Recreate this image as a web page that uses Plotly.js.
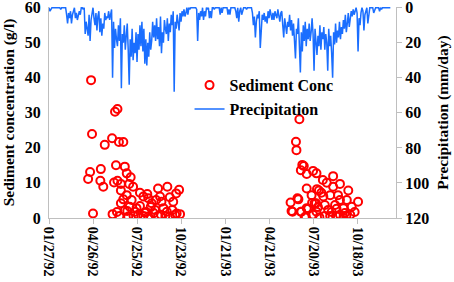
<!DOCTYPE html>
<html>
<head>
<meta charset="utf-8">
<script src="https://cdn.plot.ly/plotly-3.0.1.min.js"></script>
<style>html,body{margin:0;padding:0;background:#fff;}#chart{width:454px;height:282px;}</style>
</head>
<body>
<div id="chart"></div>
<script>
// Sediment concentration samples (g/l)
const sedDates = [
'1992-04-22','1992-06-10','1992-06-15','1992-04-24','1992-06-04','1992-05-20','1992-06-18','1992-06-27','1992-06-12','1992-06-30',
'1992-04-20','1992-04-16','1992-05-12','1992-05-11','1992-05-17','1992-07-04','1992-07-12','1992-06-08','1992-06-15','1992-06-22',
'1992-07-09','1992-07-17','1992-06-22','1992-07-31','1992-07-04','1992-08-15','1992-09-06','1992-09-25','1992-10-19','1992-10-13',
'1992-06-27','1992-08-07','1992-08-17','1992-09-10','1992-09-30','1992-06-22','1992-07-10','1992-07-31','1992-08-24','1992-09-13',
'1992-10-07','1992-06-30','1992-07-21','1992-08-10','1992-08-31','1992-09-24','1992-10-14','1992-04-26','1992-06-05','1992-06-19',
'1992-07-07','1992-08-07','1992-08-17','1992-09-06','1992-09-30','1992-10-11','1992-10-21',
'1992-07-14','1992-07-24','1992-08-22','1992-08-28','1992-09-02','1992-09-17','1992-09-21','1992-10-05','1992-07-27','1992-07-18',
'1992-07-05','1992-06-14','1992-08-13','1992-09-12',
'1993-06-22','1993-06-15','1993-06-16','1993-06-28','1993-07-01','1993-06-25','1993-07-07','1993-07-20','1993-07-27','1993-08-09',
'1993-08-30','1993-08-17','1993-09-13','1993-07-07','1993-07-28','1993-08-01','1993-08-06','1993-08-30','1993-08-24','1993-09-30',
'1993-07-17','1993-06-20','1993-06-04','1993-08-10','1993-10-20','1993-09-13','1993-09-27','1993-07-26','1993-09-03','1993-06-06',
'1993-06-26','1993-07-10','1993-07-27','1993-08-20','1993-09-20','1993-10-07','1993-07-03','1993-08-02','1993-08-24','1993-09-13',
'1993-09-20','1993-10-04','1993-06-18','1993-06-08','1993-06-25','1993-07-07','1993-07-05','1993-07-23',
'1993-08-13','1993-08-27','1993-09-06','1993-09-23','1993-10-13','1993-07-18','1993-07-30','1993-09-05','1993-09-26','1993-08-13',
'1993-09-09','1993-07-20'
];
const sedConc = [
39.2,30.2,31.0,23.9,22.7,20.8,21.6,21.6,15.0,14.6,
13.1,11.1,13.9,10.6,8.9,12.7,11.6,10.1,10.6,9.7,
9.7,8.9,7.8,7.2,6.5,6.8,8.4,8.9,8.0,7.0,
5.3,6.1,5.6,6.1,5.9,4.2,3.2,3.4,4.2,4.6,
4.6,2.1,1.8,1.5,2.3,1.8,1.3,1.3,1.1,0.6,
0.4,0.6,0.4,0.6,0.4,0.9,1.1,
5.1,2.8,3.1,1.4,5.1,2.8,0.6,2.3,0.9,0.6,
2.0,1.7,1.7,0.9,
28.1,21.7,19.3,15.1,14.8,13.6,12.5,13.4,12.7,10.8,
11.9,10.0,9.7,8.4,8.2,7.8,7.2,8.9,6.5,7.8,
6.5,5.3,4.4,6.1,4.6,5.1,5.1,4.2,3.7,2.0,
1.8,2.6,1.8,2.3,2.8,3.2,0.2,0.2,0.6,0.9,
0.1,0.9,5.6,1.8,1.8,2.8,0.4,4.2,
3.7,1.7,2.6,1.4,1.7,4.3,3.1,0.6,0.6,0.6,
6.5,0.9
];

// Precipitation (mm/day), one reading every 2 days starting 1992-01-27
const precipStart = '1992-01-27';
const precipStepDays = 2;
const precip = [
0,2,1,0,0,0,0,0,0,0,
0,0,1,0,0,0,0,0,4,9,
3,6,2,9,4,1,0,6,3,7,
5,2,4,0,0,1,0,15,8,12,
16,4,19,7,2,0,6,10,3,13,
5,2,14,6,16,9,12,3,7,5,
6,2,7,4,1,40,8,23,12,18,
22,10,19,6,46,15,20,10,24,16,
9,24,44,18,28,12,30,20,26,14,
31,15,24,10,22,8,25,12,32,18,
33,20,28,14,24,19,8,17,10,19,
6,18,11,22,5,26,14,20,7,12,
15,6,19,9,14,4,10,2,48,8,
12,4,9,13,3,8,2,5,1,5,
3,0,4,0,1,0,0,0,0,0,
0,1,19,3,7,2,5,0,7,2,
5,0,1,0,6,2,6,0,0,1,
0,0,0,0,0,4,0,3,0,0,
0,0,0,4,1,4,0,0,0,0,
0,2,6,0,8,2,0,4,2,0,
0,0,1,0,0,0,0,0,3,10,
5,17,8,4,6,2,23,9,4,7,
3,8,5,9,2,6,1,4,7,3,
7,2,5,6,1,4,8,3,2,10,
17,6,12,15,8,11,4,13,7,16,
9,18,29,12,15,6,20,37,14,25,
10,19,8,22,12,18,9,19,14,6,
15,36,12,20,27,16,22,10,24,14,
18,11,24,15,20,36,12,22,16,26,
40,14,21,9,20,13,17,8,18,11,
15,7,12,4,14,9,3,11,5,2,
5,1,4,2,0,3,25,6,10,3,
0,2,13,4,1,0,9,3,0,0,
0,0,3,1,0,0,0,0,2,0,
1,0,0,0,0,0,0,0,0,0
];

const xRange = ['1992-01-27', '1994-01-05 14:00'];
const xTick0 = '1992-01-27';
const xTickDays = 90;
const DAY = 86400000;

const fam = 'Liberation Serif, Times New Roman, serif';
const font = {family: fam, size: 14, color: '#000', weight: 'bold'};
const yTickFont = {family: fam, size: 16, color: '#000', weight: 'bold'};
const titleFont = {family: fam, size: 15.5, color: '#000', weight: 'bold'};
const legendFont = {family: fam, size: 16, color: '#000', weight: 'bold'};

const traces = [
  {
    type: 'scatter', mode: 'markers', name: 'Sediment Conc',
    x: sedDates, y: sedConc, yaxis: 'y', legendgroup: 'a',
    marker: {symbol: 'circle-open', size: 8, color: '#ff0000', line: {width: 2, color: '#ff0000'}}
  },
  {
    type: 'scatter', mode: 'lines', name: 'Precipitation',
    x0: precipStart, dx: precipStepDays * DAY, y: precip, yaxis: 'y2', legendgroup: 'b',
    line: {color: '#1a6eff', width: 1.5}
  }
];

const layout = {
  width: 454, height: 282,
  margin: {l: 49, r: 58, t: 7, b: 64, pad: 0},
  paper_bgcolor: '#fff', plot_bgcolor: '#fff',
  font: font,
  showlegend: true,
  legend: {x: 0.405, y: 0.71, xanchor: 'left', yanchor: 'top', bgcolor: 'rgba(0,0,0,0)',
           font: legendFont, traceorder: 'grouped', tracegroupgap: 0},
  xaxis: {
    type: 'date', range: xRange, tick0: xTick0, dtick: xTickDays * DAY,
    tickformat: '%m/%d/%y', tickangle: 90, ticks: 'outside', ticklen: 5, tickcolor: '#bfbfbf',
    showline: true, linecolor: '#bfbfbf', linewidth: 1, showgrid: false, zeroline: false,
    tickfont: font, ticklabeloverflow: 'allow', automargin: false
  },
  yaxis: {
    range: [0, 60], dtick: 10, showline: true, linecolor: '#bfbfbf', linewidth: 1,
    ticks: '', showgrid: false, zeroline: false, tickfont: yTickFont, ticklabelstandoff: 4,
    ticklabeloverflow: 'allow', automargin: 'left',
    title: {text: 'Sediment concentration (g/l)', font: titleFont, standoff: 6}
  },
  yaxis2: {
    overlaying: 'y', side: 'right', range: [120, -0.4], dtick: 20, tick0: 0,
    showline: true, linecolor: '#bfbfbf', linewidth: 1, ticks: 'outside', ticklen: 5, tickcolor: '#bfbfbf',
    showgrid: false, zeroline: false, tickfont: yTickFont, ticklabeloverflow: 'allow', automargin: 'right',
    title: {text: 'Precipitation (mm/day)', font: titleFont, standoff: 8}
  }
};

Plotly.newPlot('chart', traces, layout, {staticPlot: true, displayModeBar: false});
</script>
</body>
</html>
